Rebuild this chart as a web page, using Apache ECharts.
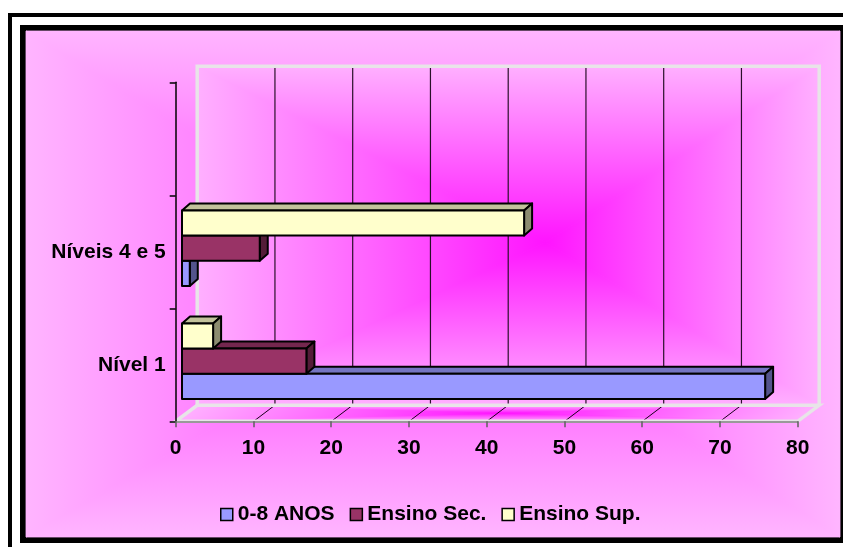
<!DOCTYPE html>
<html>
<head>
<meta charset="utf-8">
<script src="https://cdn.jsdelivr.net/npm/echarts@6/dist/echarts.min.js"></script>
<style>
  html, body { margin: 0; padding: 0; background: #ffffff; }
  #chart { width: 843px; height: 547px; }
</style>
</head>
<body>
<div id="chart"></div>
<script>
// ---- data ----
const categories = ['Nível 1', 'Níveis 4 e 5', ''];
const seriesNames = ['0-8 ANOS', 'Ensino Sec.', 'Ensino Sup.'];
const anos08 = [75, 1];
const ensinoSec = [16, 10];
const ensinoSup = [4, 44];
const xTicks = [0, 10, 20, 30, 40, 50, 60, 70, 80];

// ---- styling ----
const FONT = "'Liberation Sans', Arial, sans-serif";
const colors = ['#9999FF', '#993366', '#FFFFCC'];
const WALL_DX = 21.5, WALL_DY = -16;     // depth of floor / back wall
const BAR_OFF_X = 6.3, BAR_OFF_Y = -3.6; // bars sit a little inside the depth
const BAR_DX = 8, BAR_DY = -7;           // bar thickness
const PINK_EDGE = '#FFB5FF';
const WALL_EDGE = '#FFB0FF';
const WALL_CENTER = '#FF14FF';
const AREA_CENTER = '#FF40FF';

function shade(hex, k) {
  const n = parseInt(hex.slice(1), 16);
  const r = Math.round(((n >> 16) & 255) * k);
  const g = Math.round(((n >> 8) & 255) * k);
  const b = Math.round((n & 255) * k);
  return 'rgb(' + r + ',' + g + ',' + b + ')';
}

// "from centre" rectangular gradient: four triangles, each shading from its edge to the centre
function centreGradient(pts, c, inner, outer, extra) {
  const out = [];
  for (let i = 0; i < pts.length; i++) {
    const a = pts[i], b = pts[(i + 1) % pts.length];
    const ex = b[0] - a[0], ey = b[1] - a[1];
    const t = ((c[0] - a[0]) * ex + (c[1] - a[1]) * ey) / (ex * ex + ey * ey);
    const f = [a[0] + t * ex, a[1] + t * ey];
    const grad = new echarts.graphic.LinearGradient(f[0], f[1], c[0], c[1], [
      { offset: 0, color: outer }, { offset: 1, color: inner }
    ], true);
    out.push(Object.assign({
      type: 'polygon',
      shape: { points: [a, b, c] },
      style: { fill: grad, stroke: grad, lineWidth: 0.8 },
      silent: true
    }, extra || {}));
  }
  return out;
}

// back wall, floor, gridlines
function renderWalls(params, api) {
  const cs = params.coordSys;
  const L = cs.x, R = cs.x + cs.width, T = cs.y, B = cs.y + cs.height;
  const wl = L + WALL_DX, wr = R + WALL_DX, wt = T + WALL_DY, wb = B + WALL_DY;
  const children = [];

  const wallPts = [[wl, wt], [wr, wt], [wr, wb], [wl, wb]];
  children.push(...centreGradient(wallPts, [wl + (wr - wl) * 0.56, wt + (wb - wt) * 0.52], WALL_CENTER, WALL_EDGE));

  const floorPts = [[wl, wb], [wr, wb], [R, B], [L, B]];
  children.push(...centreGradient(floorPts, [(L + wr) / 2, (B + wb) / 2], WALL_CENTER, WALL_EDGE));

  xTicks.forEach(function (v) {
    if (v <= xTicks[0] || v >= xTicks[xTicks.length - 1]) return;
    const x = api.coord([v, 0])[0];
    children.push({
      type: 'line',
      shape: { x1: x + WALL_DX, y1: wt, x2: x + WALL_DX, y2: wb },
      style: { stroke: '#2a102a', lineWidth: 1.2 }
    });
    children.push({
      type: 'line',
      shape: { x1: x + 1.5, y1: B - 1, x2: x + WALL_DX - 1.5, y2: wb + 1 },
      style: { stroke: '#1a001a', lineWidth: 1 }
    });
  });

  const edge = { stroke: '#E8E4E8', lineWidth: 3.5, fill: null, lineJoin: 'miter' };
  children.push({ type: 'polyline', shape: { points: [[wl, wb], [wl, wt], [wr, wt], [wr, wb]] }, style: edge });
  children.push({ type: 'polygon', shape: { points: floorPts }, style: Object.assign({}, edge, { fill: 'none' }) });

  return { type: 'group', children: children, silent: true };
}

function makeBarRenderer(s) {
  return function (params, api) {
    const val = api.value(0), cat = api.value(1);
    const base = api.coord([0, cat]);
    const end = api.coord([val, cat]);
    const band = api.size([0, 1])[1];
    const h = band * 0.223;
    const yc = base[1] + (1 - s) * h + BAR_OFF_Y;
    const y0 = yc - h / 2, y1 = yc + h / 2;
    const x0 = base[0] + BAR_OFF_X, x1 = end[0] + BAR_OFF_X;
    const c = colors[s];
    const line = { stroke: '#000', lineWidth: 2, lineJoin: 'round' };
    return {
      type: 'group',
      children: [
        { type: 'polygon',
          shape: { points: [[x0, y0], [x0 + BAR_DX, y0 + BAR_DY], [x1 + BAR_DX, y0 + BAR_DY], [x1, y0]] },
          style: Object.assign({ fill: shade(c, 0.76) }, line) },
        { type: 'polygon',
          shape: { points: [[x1, y0], [x1 + BAR_DX, y0 + BAR_DY], [x1 + BAR_DX, y1 + BAR_DY], [x1, y1]] },
          style: Object.assign({ fill: shade(c, 0.55) }, line) },
        { type: 'rect',
          shape: { x: x0, y: y0, width: x1 - x0, height: h },
          style: Object.assign({ fill: c }, line) }
      ]
    };
  };
}

const values = [anos08, ensinoSec, ensinoSup];
const barSeries = seriesNames.map(function (name, s) {
  return {
    name: name,
    type: 'custom',
    renderItem: makeBarRenderer(s),
    encode: { x: 0, y: 1 },
    itemStyle: { color: colors[s] },
    data: values[s].map(function (v, i) { return [v, i]; }),
    z: 3
  };
});

// chart-area background and frames
const areaPts = [[26, 31], [840, 31], [840, 537], [26, 537]];
const graphics = [
  { type: 'rect', shape: { x: 10, y: 15, width: 900, height: 600 },
    style: { fill: '#ffffff', stroke: '#000', lineWidth: 4 }, z: -20, silent: true },
  { type: 'rect', shape: { x: 23, y: 28, width: 820, height: 512 },
    style: { fill: PINK_EDGE, stroke: '#000', lineWidth: 6 }, z: -19, silent: true }
].concat(centreGradient(areaPts, [450, 290], AREA_CENTER, PINK_EDGE, { z: -18 }));

const chart = echarts.init(document.getElementById('chart'), null, { renderer: 'canvas' });
chart.setOption({
  animation: false,
  backgroundColor: '#ffffff',
  graphic: graphics,
  grid: { left: 175.7, right: 45.3, top: 82.3, bottom: 125.7, outerBoundsMode: 'none' },
  legend: {
    data: seriesNames,
    left: 215, top: 499,
    icon: 'rect',
    itemWidth: 12, itemHeight: 12, itemGap: 15,
    itemStyle: { borderColor: '#000', borderWidth: 1.5 },
    textStyle: { fontFamily: FONT, fontWeight: 'bold', fontSize: 21, color: '#000' }
  },
  xAxis: {
    type: 'value', min: 0, max: 80, interval: 10,
    axisLine: { show: true, lineStyle: { color: '#808080', width: 1.5 } },
    axisTick: { show: true, length: 6, lineStyle: { color: '#606060', width: 1.5 } },
    splitLine: { show: false },
    axisLabel: { fontFamily: FONT, fontWeight: 'bold', fontSize: 21, color: '#000', margin: 16 },
    z: 5
  },
  yAxis: {
    type: 'category', data: categories,
    axisLine: { show: true, lineStyle: { color: '#000', width: 1.5 } },
    axisTick: { show: true, length: 6, lineStyle: { color: '#000', width: 1.5 } },
    axisLabel: { fontFamily: FONT, fontWeight: 'bold', fontSize: 21, color: '#000', margin: 10 },
    z: 5
  },
  series: [{
    name: 'walls',
    type: 'custom',
    renderItem: renderWalls,
    encode: { x: 0, y: 1 },
    data: [[0, 0]],
    silent: true,
    z: 1
  }].concat(barSeries)
});
</script>
</body>
</html>
